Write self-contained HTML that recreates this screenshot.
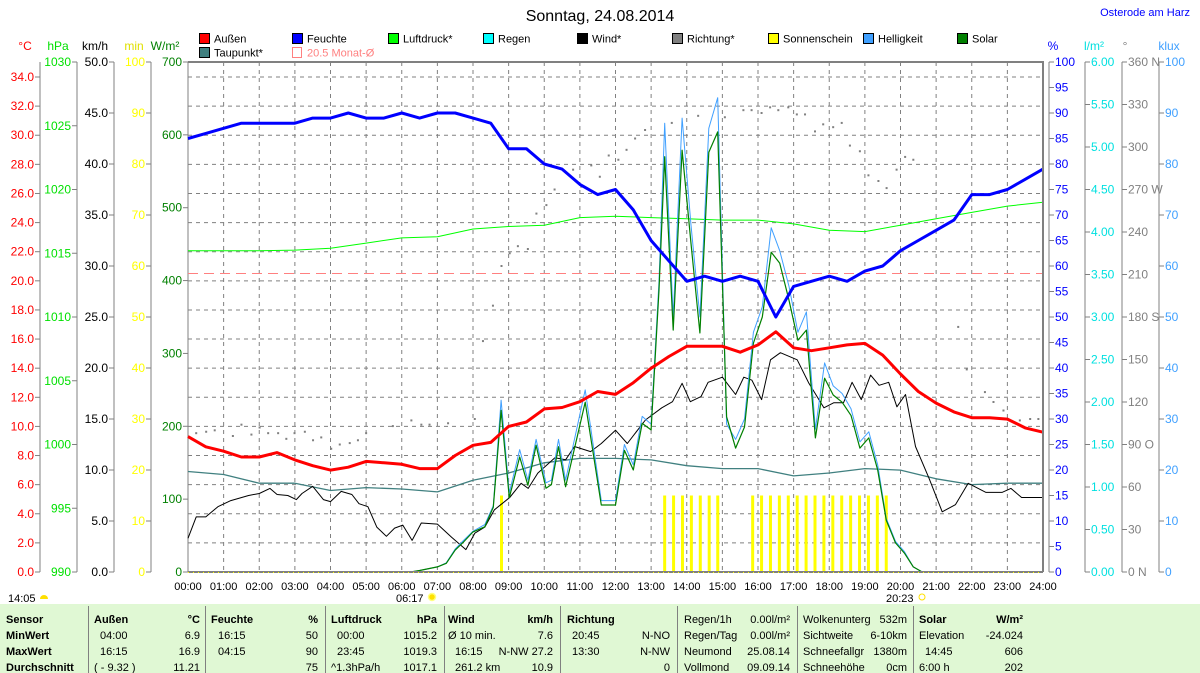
<!DOCTYPE html>
<html><head><meta charset="utf-8">
<style>
html,body{margin:0;padding:0;background:#fff;}
svg{display:block;font-family:"Liberation Sans",sans-serif;}
</style></head>
<body>
<svg id="chart" width="1200" height="673" viewBox="0 0 1200 673" xmlns="http://www.w3.org/2000/svg">
  <rect x="0" y="0" width="1200" height="673" fill="#fff"/>
  <text x="600" y="21" font-size="16" text-anchor="middle" fill="#000">Sonntag, 24.08.2014</text>
  <text x="1190" y="16" font-size="11" text-anchor="end" fill="#0000ff">Osterode am Harz</text>
  <g id="legend"></g>
  <g id="axes"></g>
  <g id="grid"></g>
  <g id="series"></g>
  <g id="table"></g>
</svg>
<script>
// ---- data ----
const halfHourHumidity = [85,86,87,88,88,88,88,89,89,90,89,89,90,89,90,90,89,88,83,83,80,79,76,74,75,71,65,61,57,58,57,58,57,50,56,57,58,57,59,60,63,65,67,69,74,74,75,77,79];
const halfHourTemp = [9.3,8.6,8.3,7.9,7.9,8.2,7.7,7.3,7.0,7.2,7.6,7.5,7.4,7.1,7.1,8.0,8.7,8.9,10.0,10.3,11.2,11.3,11.7,12.4,12.2,13.0,14.0,14.8,15.5,15.5,15.5,15.1,15.6,16.5,15.4,15.2,15.4,15.6,15.7,14.9,13.6,12.4,11.6,11.0,10.6,10.6,10.5,9.9,9.6];
const hourlyDewpoint = [6.9,6.7,6.1,6.1,5.6,5.8,5.7,5.5,6.3,6.8,7.5,7.8,7.8,7.7,7.3,7.1,7.1,6.6,6.8,7.1,7.0,6.4,6.0,6.1,6.1];
const hourlyPressure = [1015.2,1015.2,1015.2,1015.25,1015.4,1015.8,1016.2,1016.3,1016.9,1017.1,1017.2,1017.8,1017.9,1017.8,1017.7,1017.6,1017.6,1017.3,1016.8,1016.7,1017.2,1017.7,1018.2,1018.7,1019.0];
const windTimes = [0,0.23,0.5,0.84,1.2,1.7,2.0,2.3,2.5,2.8,3.04,3.2,3.5,3.8,4.0,4.3,4.6,4.8,5.05,5.3,5.57,5.8,6.03,6.29,6.55,7.0,7.4,7.8,8.05,8.33,8.6,9.03,9.35,9.55,9.82,10.3,10.6,10.85,11.3,11.6,12.0,12.33,12.84,13.3,13.6,13.87,14.1,14.4,14.6,15.0,15.37,15.6,15.83,16.1,16.35,16.63,17.1,17.43,17.85,18.13,18.4,18.64,18.9,19.16,19.4,19.67,19.9,20.14,20.42,20.8,21.17,21.54,21.9,22.4,22.85,23.1,23.4,24.0];
const windVals = [3.3,5.4,5.4,6.4,7.0,7.5,7.7,8.2,7.6,7.5,7.1,7.7,8.4,7.1,6.9,7.9,7.6,6.7,6.4,4.4,3.5,4.3,4.6,3.1,4.8,4.7,3.4,2.2,3.8,4.4,6.1,7.3,8.7,8.2,9.7,11.2,11.0,12.3,11.8,12.6,13.9,12.6,14.9,16.1,16.7,18.5,16.7,17.2,18.6,19.1,17.4,19.1,18.8,16.9,20.8,21.5,20.8,18.5,16.1,16.6,16.6,18.6,16.9,19.3,18.3,18.6,16.2,17.4,12.3,9.2,5.9,6.6,8.7,7.8,7.8,8.2,7.3,7.3];
const solarTimes = [6.25,6.5,7.0,7.25,7.5,7.75,8.0,8.33,8.57,8.79,9.02,9.31,9.54,9.77,10.05,10.2,10.4,10.6,11.15,11.6,12.0,12.25,12.5,12.75,13.0,13.22,13.38,13.62,13.87,14.12,14.37,14.62,14.87,15.12,15.37,15.62,15.87,16.12,16.37,16.61,16.87,17.12,17.36,17.61,17.87,18.11,18.36,18.61,18.86,19.11,19.36,19.6,19.86,20.11,20.36,20.61];
const solarVals = [0,2,7,12,30,42,55,62,89,222,102,158,119,174,115,120,172,117,233,92,92,167,140,204,195,387,570,332,579,451,328,576,604,213,170,199,314,350,439,424,373,318,332,184,266,243,233,215,170,184,140,71,40,26,7,0];
const luxVals = [0,0.3,1,1.8,4.5,6.3,8,9.3,13,33.7,15.5,24,18,26,17.5,18,26,18,35.7,14,14,25,21,30.5,29,57,88,50,89,68,50,87,93,29,26,30,47,52,67.5,63,56,47,51,28,41,36.5,35,32,25.5,27.5,21,10.5,6,4,1,0];
const sunTimes = [8.8,13.38,13.63,13.88,14.13,14.38,14.63,14.87,15.85,16.1,16.35,16.6,16.85,17.1,17.35,17.6,17.85,18.1,18.35,18.6,18.85,19.1,19.35,19.6];
const sunMinutes = [15,15,15,15,15,15,15,15,15,15,15,15,15,15,15,15,15,15,15,15,15,15,15,15];
const dirTimes = [0.23,0.51,0.75,1.26,1.5,1.78,2.01,2.25,2.53,2.76,2.99,3.28,3.51,3.74,4.02,4.26,4.54,4.77,5.0,5.75,6.27,6.55,6.78,7.3,8.05,8.28,8.56,8.8,9.03,9.26,9.54,9.78,10.06,10.29,10.81,11.04,11.32,11.56,11.81,12.08,12.31,12.55,12.83,13.58,14.32,15.07,15.59,15.82,16.1,16.34,16.57,16.85,17.09,17.32,17.6,17.83,18.11,18.35,18.58,18.86,19.1,19.38,19.61,19.89,20.13,20.36,21.62,21.86,22.37,22.61,22.89,23.35,23.64,23.87];
const dirVals = [98,99,100,96,104,97,102,98,98,94,98,99,93,95,87,90,91,93,98,103,107,104,104,105,108,163,188,216,225,230,228,253,259,270,284,272,287,279,294,291,298,306,312,317,322,321,326,326,324,328,326,328,323,323,311,316,314,317,301,297,280,276,271,284,293,291,173,143,127,120,114,107,108,108];
const monthAvgTemp = 20.5;
const hourLabels = ["00:00","01:00","02:00","03:00","04:00","05:00","06:00","07:00","08:00","09:00","10:00","11:00","12:00","13:00","14:00","15:00","16:00","17:00","18:00","19:00","20:00","21:00","22:00","23:00","24:00"];

// ---- scales ----
const PL=188, PR=1043, PT=62, PB=572;
const X = h => PL + h*(PR-PL)/24;
const yT = t => PB - t*495/34;
const yH = v => PB - v*(PB-PT)/100;
const yP = p => PB - (p-990)*(PB-PT)/40;
const yW = w => PB - w*(PB-PT)/50;
const yS = s => PB - s*(PB-PT)/700;
const yM = m => PB - m*(PB-PT)/100;
const yK = k => PB - k*(PB-PT)/100;
const yD = d => PB - d*(PB-PT)/360;

const NS="http://www.w3.org/2000/svg";
function mk(parent, tag, attrs, txt){const e=document.createElementNS(NS,tag);for(const k in attrs)e.setAttribute(k,attrs[k]);if(txt!==undefined)e.textContent=txt;parent.appendChild(e);return e;}

const gAx=document.getElementById('axes'), gGrid=document.getElementById('grid'), gS=document.getElementById('series'), gL=document.getElementById('legend'), gT=document.getElementById('table');

// ---- grid ----
for(let t=2;t<=34;t+=2){
  const l=mk(gGrid,'line',{x1:PL,x2:PR,y1:yT(t),y2:yT(t),stroke:'#808080','stroke-width':1,'stroke-dasharray':'4,4'});
  
  
}
for(let h=1;h<24;h++){
  const l=mk(gGrid,'line',{x1:X(h),x2:X(h),y1:PT,y2:PB,stroke:'#808080','stroke-width':1,'stroke-dasharray':'4,4'});
  
  
}

// ---- axes ----
function axis(name, ax, vals, yf, fmt, color, side){
  const line=mk(gAx,'line',{x1:ax,x2:ax,y1:PT,y2:PB,stroke:'#808080','stroke-width':1});
  
  
  vals.forEach(v=>{
    const y=yf(v);
    const tk=mk(gAx,'line',{x1:side<0?ax-5:ax,x2:side<0?ax:ax+5,y1:y,y2:y,stroke:'#808080','stroke-width':1});
    
    
    const tx=mk(gAx,'text',{x:side<0?ax-6:ax+6,y:y+4,'font-size':12,fill:color,'text-anchor':side<0?'end':'start'},fmt(v));
    
    
  });
}
const rng=(a,b,s)=>{const r=[];for(let v=a;v<=b+1e-9;v+=s)r.push(+v.toFixed(3));return r;};
axis('temp',40,rng(0,34,2),yT,v=>v.toFixed(1),'#ff0000',-1);
axis('pressure',77,rng(990,1030,5),yP,v=>String(v),'#00e000',-1);
axis('wind',114,rng(0,50,5),yW,v=>v.toFixed(1),'#000',-1);
axis('sunshine',151,rng(0,100,10),yM,v=>String(v),'#ffff00',-1);
axis('solar',PL,rng(0,700,100),yS,v=>String(v),'#008000',-1);
axis('humidity',1049,rng(0,100,5),yH,v=>String(v),'#0000ff',1);
axis('rain',1085,rng(0,6,0.5),v=>PB-v*(PB-PT)/6,v=>v.toFixed(2),'#00e0e0',1);
const dirNames={0:'0 N',90:'90 O',180:'180 S',270:'270 W',360:'360 N'};
axis('direction',1122,rng(0,360,30),yD,v=>dirNames[v]||String(v),'#808080',1);
axis('brightness',1159,rng(0,100,10),yK,v=>String(v),'#40a0ff',1);

const units=[['°C',25,'#ff0000'],['hPa',58,'#00e000'],['km/h',95,'#000'],['min',134,'#e0e000'],['W/m²',165,'#008000'],['%',1053,'#0000ff'],['l/m²',1094,'#00e0e0'],['°',1125,'#808080'],['klux',1169,'#40a0ff']];
units.forEach(u=>{
  const t=mk(gAx,'text',{x:u[1],y:50,'font-size':12,fill:u[2],'text-anchor':'middle'},u[0]);
  
  
});
hourLabels.forEach((s,i)=>{
  const t=mk(gAx,'text',{x:X(i),y:590,'font-size':11,'text-anchor':'middle',fill:'#000'},s);
  
  
});

// ---- series ----
function poly(name, xs, ys, color, w){
  const p=mk(gS,'polyline',{points:xs.map((x,i)=>x.toFixed(1)+','+ys[i].toFixed(1)).join(' '),fill:'none',stroke:color,'stroke-width':w,'stroke-linejoin':'round'});
  
  
}
const ma=mk(gS,'line',{x1:PL,x2:PR,y1:yT(monthAvgTemp),y2:yT(monthAvgTemp),stroke:'#ff8080','stroke-width':1,'stroke-dasharray':'10,6'});


dirTimes.forEach((t,i)=>{
  const r=mk(gS,'rect',{x:X(t)-1,y:yD(dirVals[i])-1,width:2,height:2,fill:'#808080'});
  
  
});
sunTimes.forEach((t,i)=>{
  const r=mk(gS,'rect',{x:X(t)-1.5,y:yM(sunMinutes[i]),width:3,height:PB-yM(sunMinutes[i]),fill:'#ffff00'});
  
  
});
const hx=halfHourHumidity.map((_,i)=>X(i/2));
const dx=hourlyDewpoint.map((_,i)=>X(i));
poly('pressure-line',dx,hourlyPressure.map(yP),'#00ff00',1);
poly('dewpoint-line',dx,hourlyDewpoint.map(yT),'#408080',1.3);
poly('wind-line',windTimes.map(X),windVals.map(yW),'#000',1);
poly('brightness-line',solarTimes.map(X),luxVals.map(yK),'#40a0ff',1);
poly('solar-line',solarTimes.map(X),solarVals.map(yS),'#008000',1.2);
poly('temperature-line',hx,halfHourTemp.map(yT),'#ff0000',3);
poly('humidity-line',hx,halfHourHumidity.map(yH),'#0000ff',3);

const bd=mk(gS,'path',{d:`M${PL},${PT} H${PR} V${PB}`,fill:'none',stroke:'#808080','stroke-width':2});


const bl=mk(gS,'line',{x1:PL,x2:PR,y1:PB,y2:PB,stroke:'#808080','stroke-width':2});


const by=mk(gS,'line',{x1:PL,x2:PR,y1:PB+0.5,y2:PB+0.5,stroke:'#ffff00','stroke-width':1,'stroke-dasharray':'1,4'});



// ---- legend ----
const legendItems=[['Außen','#ff0000',199,33],['Feuchte','#0000ff',292,33],['Luftdruck*','#00ff00',388,33],['Regen','#00ffff',483,33],['Wind*','#000000',577,33],['Richtung*','#808080',672,33],['Sonnenschein','#ffff00',768,33],['Helligkeit','#40a0ff',863,33],['Solar','#008000',957,33],['Taupunkt*','#408080',199,47]];
legendItems.forEach(it=>{
  const r=mk(gL,'rect',{x:it[2]+0.5,y:it[3]+0.5,width:10,height:10,fill:it[1],stroke:'#000','stroke-width':1});
  
  
  const t=mk(gL,'text',{x:it[2]+15,y:it[3]+9.5,'font-size':11,fill:'#000'},it[0]);
  
  
});
const ms=mk(gL,'rect',{x:292.5,y:47.5,width:9,height:10,fill:'none',stroke:'#ff8080','stroke-width':1});


const mt=mk(gL,'text',{x:307,y:56.5,'font-size':11,fill:'#ff8080'},'20.5 Monat-Ø');



const sunMarks=[['14:05',8,'half'],['06:17',396,'sun'],['20:23',886,'ring']];
sunMarks.forEach(s=>{
  const t=mk(gAx,'text',{x:s[1],y:602,'font-size':11,fill:'#000'},s[0]);
  
  
  const cx=s[1]+36, cy=597;
  let c;
  if(s[2]==='half') c=mk(gAx,'path',{d:`M${cx-4},${cy+2} A4,4 0 0 1 ${cx+4},${cy+2} Z`,fill:'#ffe000'});
  else if(s[2]==='sun') c=mk(gAx,'circle',{cx:cx,cy:cy,r:3.5,fill:'#ffe000',stroke:'#ffff80','stroke-width':1.5});
  else c=mk(gAx,'circle',{cx:cx,cy:cy,r:3,fill:'none',stroke:'#ffe000','stroke-width':1});
  
  
});

// ---- table ----
const tb=mk(gT,'rect',{x:0,y:604,width:1200,height:69,fill:'#e0f8d4'});


[88,205,325,444,560,677,797,913].forEach(x=>{
  const l=mk(gT,'line',{x1:x+0.5,x2:x+0.5,y1:606,y2:673,stroke:'#808080','stroke-width':1});
  
  
});
const rowsY=[623,639,655,671];
const cells=[
 [6,0,'Sensor','start',1],[6,1,'MinWert','start',1],[6,2,'MaxWert','start',1],[6,3,'Durchschnitt','start',1],
 [94,0,'Außen','start',1],[200,0,'°C','end',1],[100,1,'04:00','start',0],[200,1,'6.9','end',0],[100,2,'16:15','start',0],[200,2,'16.9','end',0],[94,3,'( - 9.32 )','start',0],[200,3,'11.21','end',0],
 [211,0,'Feuchte','start',1],[318,0,'%','end',1],[218,1,'16:15','start',0],[318,1,'50','end',0],[218,2,'04:15','start',0],[318,2,'90','end',0],[318,3,'75','end',0],
 [331,0,'Luftdruck','start',1],[437,0,'hPa','end',1],[337,1,'00:00','start',0],[437,1,'1015.2','end',0],[337,2,'23:45','start',0],[437,2,'1019.3','end',0],[331,3,'^1.3hPa/h','start',0],[437,3,'1017.1','end',0],
 [448,0,'Wind','start',1],[553,0,'km/h','end',1],[448,1,'Ø 10 min.','start',0],[553,1,'7.6','end',0],[455,2,'16:15','start',0],[553,2,'N-NW 27.2','end',0],[455,3,'261.2 km','start',0],[553,3,'10.9','end',0],
 [567,0,'Richtung','start',1],[572,1,'20:45','start',0],[670,1,'N-NO','end',0],[572,2,'13:30','start',0],[670,2,'N-NW','end',0],[670,3,'0','end',0],
 [684,0,'Regen/1h','start',0],[790,0,'0.00l/m²','end',0],[684,1,'Regen/Tag','start',0],[790,1,'0.00l/m²','end',0],[684,2,'Neumond','start',0],[790,2,'25.08.14','end',0],[684,3,'Vollmond','start',0],[790,3,'09.09.14','end',0],
 [803,0,'Wolkenunterg','start',0],[907,0,'532m','end',0],[803,1,'Sichtweite','start',0],[907,1,'6-10km','end',0],[803,2,'Schneefallgr','start',0],[907,2,'1380m','end',0],[803,3,'Schneehöhe','start',0],[907,3,'0cm','end',0],
 [919,0,'Solar','start',1],[1023,0,'W/m²','end',1],[919,1,'Elevation','start',0],[1023,1,'-24.024','end',0],[925,2,'14:45','start',0],[1023,2,'606','end',0],[919,3,'6:00 h','start',0],[1023,3,'202','end',0]
];
cells.forEach(c=>{
  const t=mk(gT,'text',{x:c[0],y:rowsY[c[1]],'font-size':11,'text-anchor':c[3],'font-weight':c[4]?'bold':'normal',fill:'#000'},c[2]);
  
  
});
</script>
</body></html>
